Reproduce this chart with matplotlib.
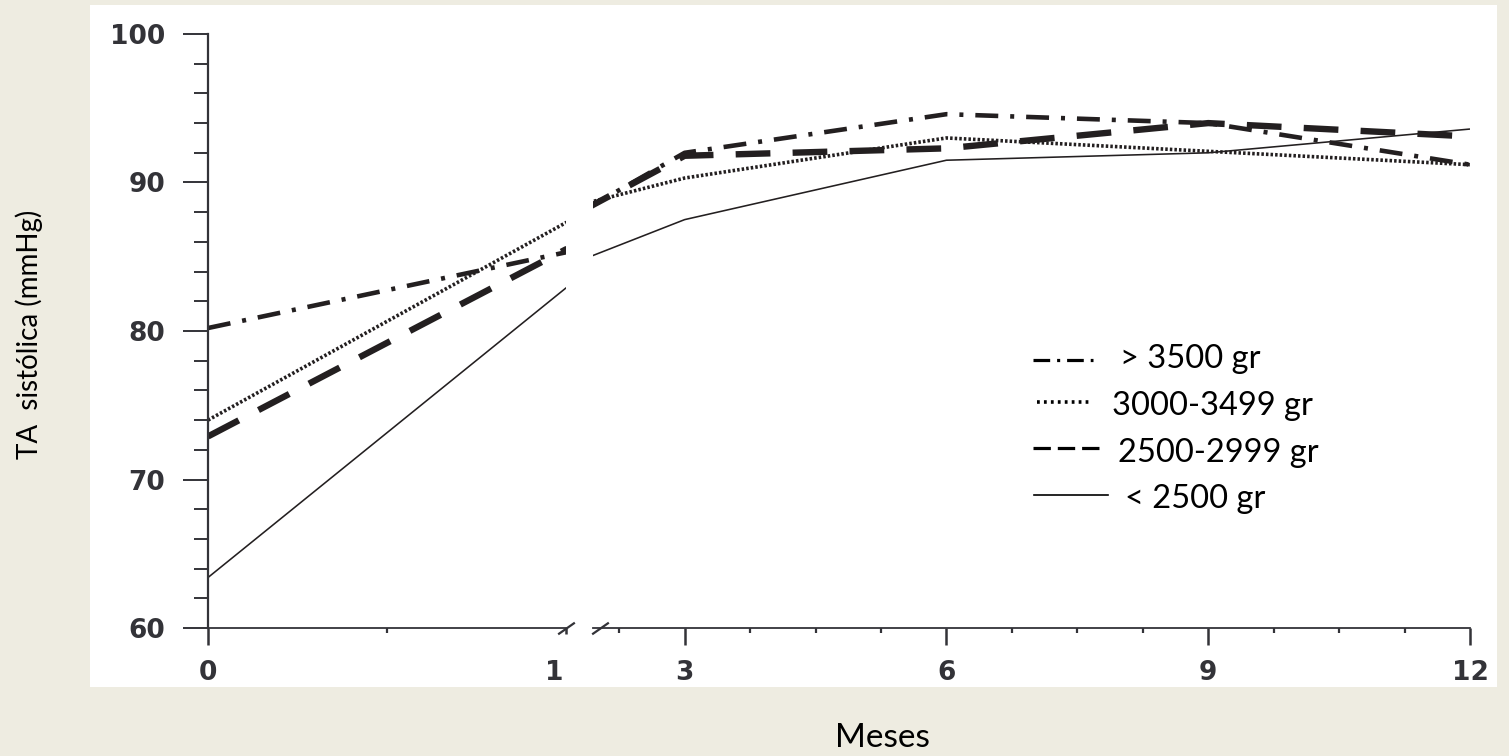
import numpy as np
import matplotlib.pyplot as plt
import matplotlib.transforms as mtransforms
from matplotlib.lines import Line2D
from matplotlib.patches import Rectangle
from matplotlib.ticker import MultipleLocator, FixedLocator

plt.rcParams['lines.scale_dashes'] = False

# Systolic pressure (mmHg) by birth weight group, months 0-12
months = [0, 1, 3, 6, 9, 12]
tas_lt2500 = [63.4, 82.9, 87.5, 91.5, 92.0, 93.6]
tas_2500_2999 = [72.9, 85.5, 91.8, 92.3, 94.0, 93.1]
tas_3000_3499 = [74.0, 87.3, 90.3, 93.0, 92.1, 91.2]
tas_gt3500 = [80.2, 85.3, 92.0, 94.6, 94.0, 91.2]

labels = ['> 3500 gr', '3000-3499 gr', '2500-2999 gr', '< 2500 gr']
x_ticks_left = [0, 1]
x_ticks_right = [3, 6, 9, 12]
y_ticks = [60, 70, 80, 90, 100]

W, H = 1509, 756
bg = '#eeece1'
ink = '#231f20'
tick_col = '#333338'

styles = {
    '> 3500 gr': dict(lw=3.3, linestyle=(0, (16.5, 8.6, 2.9, 8.6))),
    '3000-3499 gr': dict(lw=2.6, linestyle=(0, (1.8, 1.5))),
    '2500-2999 gr': dict(lw=4.6, linestyle=(0, (25, 16))),
    '< 2500 gr': dict(lw=1.15, linestyle='-'),
}
series = {
    '> 3500 gr': tas_gt3500,
    '3000-3499 gr': tas_3000_3499,
    '2500-2999 gr': tas_2500_2999,
    '< 2500 gr': tas_lt2500,
}


def fx(px):
    return px / W


def fy(py):
    return 1 - py / H


fig = plt.figure(figsize=(W / 100, H / 100), dpi=100, facecolor=bg)
fig.patches.append(Rectangle((fx(90), fy(687)), fx(1497) - fx(90), fy(5) - fy(687),
                             transform=fig.transFigure, facecolor='white',
                             edgecolor='none', zorder=-5))

ax1 = fig.add_axes([fx(208), fy(628), fx(566) - fx(208), fy(34) - fy(628)])
ax2 = fig.add_axes([fx(593), fy(628), fx(1470) - fx(593), fy(34) - fy(628)], sharey=ax1)

for ax in (ax1, ax2):
    ax.set_facecolor('none')
    for s in ('top', 'right'):
        ax.spines[s].set_visible(False)
    ax.spines['bottom'].set_color(tick_col)
    ax.spines['bottom'].set_linewidth(1.3)
    for name, vals in series.items():
        ax.plot(months, vals, color=ink, solid_capstyle='butt',
                dash_capstyle='butt', **styles[name])

ax1.set_xlim(0, 1)
ax2.set_xlim(1.95, 12)
ax1.set_ylim(60, 100)

# y axis
ax1.spines['left'].set_color(tick_col)
ax1.spines['left'].set_linewidth(1.6)
ax1.set_yticks(y_ticks)
ax1.yaxis.set_minor_locator(MultipleLocator(2))
ax1.tick_params(axis='y', which='major', length=18, width=1.4, color=tick_col,
                pad=13, labelsize=19, labelcolor=tick_col)
ax1.tick_params(axis='y', which='minor', length=10, width=1.4, color=tick_col)

ax2.spines['left'].set_visible(False)
ax2.tick_params(axis='y', which='both', left=False, labelleft=False)

# x axes with a break between 1 and 3
ax1.set_xticks(x_ticks_left)
ax1.xaxis.set_minor_locator(FixedLocator([0.5]))
ax2.set_xticks(x_ticks_right)
ax2.xaxis.set_minor_locator(FixedLocator([m for m in np.arange(2.25, 12, 0.75)
                                          if m not in x_ticks_right]))
for ax in (ax1, ax2):
    ax.tick_params(axis='x', which='major', length=12, width=1.8, color=tick_col,
                   pad=11, labelsize=19, labelcolor=tick_col)
    ax.tick_params(axis='x', which='minor', length=3.5, width=1.6, color=tick_col)
ax1.xaxis.get_major_ticks()[1].tick1line.set_markersize(4)

for ax in (ax1, ax2):
    for lab in ax.get_xticklabels() + ax.get_yticklabels():
        lab.set_fontweight('bold')

# the "1" label sits a little left of its tick
lab1 = ax1.get_xticklabels()[1]
lab1.set_transform(lab1.get_transform() +
                   mtransforms.ScaledTranslation(-12 / 100, 0, fig.dpi_scale_trans))

brk = dict(marker=[(-1, -0.7), (1, 0.7)], markersize=12, linestyle='none',
           color=tick_col, mec=tick_col, mew=1.6, clip_on=False)
ax1.plot([1.0], [0], transform=ax1.transAxes, **brk)
ax2.plot([0.008], [0], transform=ax2.transAxes, **brk)

# axis titles
fig.text(fx(29), fy(334), 'TA  sistólica (mmHg)', rotation=90, ha='center',
         va='center', fontsize=20, family='Lato', color='black')
fig.text(fx(882), fy(738), 'Meses', ha='center', va='center', fontsize=24,
         family='Lato', color='black')

# legend drawn by hand
legend_rows = [
    ('> 3500 gr', 1033, 1093, 1120, 360, 368, dict(lw=2.3, linestyle=(0, (12, 5, 2.2, 5)))),
    ('3000-3499 gr', 1037, 1089, 1112, 402, 415, dict(lw=2.6, linestyle=(0, (2.0, 3.0)))),
    ('2500-2999 gr', 1033, 1101, 1118, 448, 462, dict(lw=2.3, linestyle=(0, (12.5, 5)))),
    ('< 2500 gr', 1034, 1108, 1125, 495, 508, dict(lw=1.2, linestyle='-')),
]
for text, x0, x1, tx, ly, ty, st in legend_rows:
    fig.add_artist(Line2D([fx(x0), fx(x1)], [fy(ly), fy(ly)], color='black',
                          transform=fig.transFigure, dash_capstyle='butt', **st))
    fig.text(fx(tx), fy(ty), text, ha='left', va='baseline', fontsize=23.5,
             family='Lato', color='black')

fig.savefig('out.png', dpi=100, facecolor=bg)
